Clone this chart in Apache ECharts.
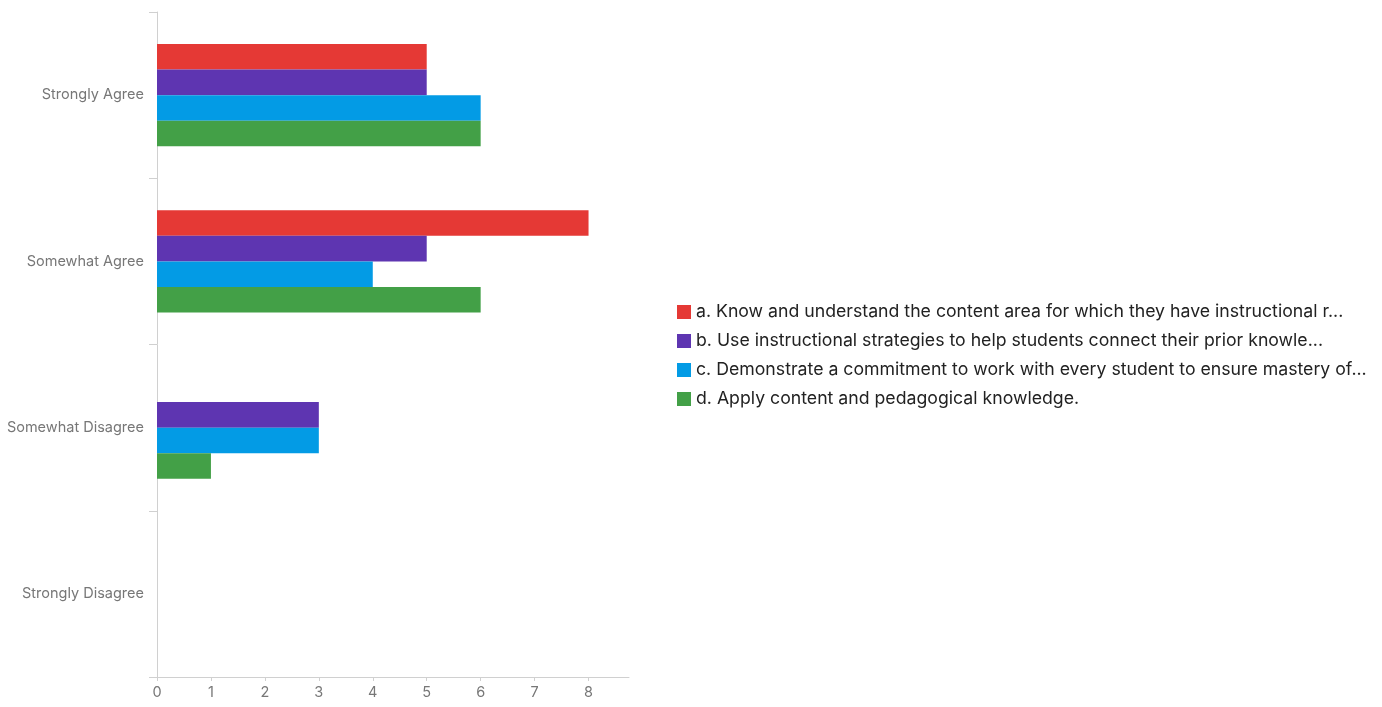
<!DOCTYPE html>
<html>
<head>
<meta charset="utf-8">
<script src="https://cdn.jsdelivr.net/npm/echarts@6/dist/echarts.min.js"></script>
<style>
  html, body { margin: 0; padding: 0; background: #fff; }
  #chart { width: 1382px; height: 707px; }
</style>
</head>
<body>
<div id="chart"></div>
<script>
// Response categories, top to bottom
const categories = ['Strongly Agree', 'Somewhat Agree', 'Somewhat Disagree', 'Strongly Disagree'];

// Statement labels as shown in the legend
const seriesNames = [
  'a. Know and understand the content area for which they have instructional r...',
  'b. Use instructional strategies to help students connect their prior knowle...',
  'c. Demonstrate a commitment to work with every student to ensure mastery of...',
  'd. Apply content and pedagogical knowledge.'
];

// Counts per category for each statement
const valuesA = [5, 8, 0, 0];
const valuesB = [5, 5, 3, 0];
const valuesC = [6, 4, 3, 0];
const valuesD = [6, 6, 1, 0];

const seriesValues = [valuesA, valuesB, valuesC, valuesD];
const colors = ['#e53935', '#5e35b1', '#039be5', '#43a047'];

const chart = echarts.init(document.getElementById('chart'));

chart.setOption({
  animation: false,
  color: colors,
  textStyle: { fontFamily: 'Inter, Roboto, sans-serif' },
  grid: { left: 157, top: 12, right: 753, bottom: 30, containLabel: false },
  legend: {
    orient: 'vertical',
    left: 672,
    top: 298,
    itemWidth: 14,
    itemHeight: 14,
    itemGap: 11,
    icon: 'rect',
    textStyle: { fontSize: 17.7, lineHeight: 16, color: '#222', fontFamily: 'Inter, sans-serif' },
    data: seriesNames
  },
  xAxis: {
    type: 'value',
    min: 0,
    max: 8.75,
    interval: 1,
    splitLine: { show: false },
    axisLine: { show: true, lineStyle: { color: '#d0d0d0', width: 1 } },
    axisTick: { show: true, length: 4, lineStyle: { color: '#d0d0d0' } },
    axisLabel: { showMaxLabel: false, color: '#777', fontSize: 14.5, margin: 8 }
  },
  yAxis: {
    type: 'category',
    inverse: true,
    data: categories,
    axisLine: { show: true, lineStyle: { color: '#d0d0d0', width: 1 } },
    axisTick: { show: true, length: 8, lineStyle: { color: '#d0d0d0' } },
    axisLabel: { color: '#777', fontSize: 14.5, margin: 13 }
  },
  series: seriesValues.map((vals, i) => ({
    name: seriesNames[i],
    type: 'bar',
    data: vals,
    barGap: '0%',
    barCategoryGap: '38.6%'
  }))
});
</script>
</body>
</html>
